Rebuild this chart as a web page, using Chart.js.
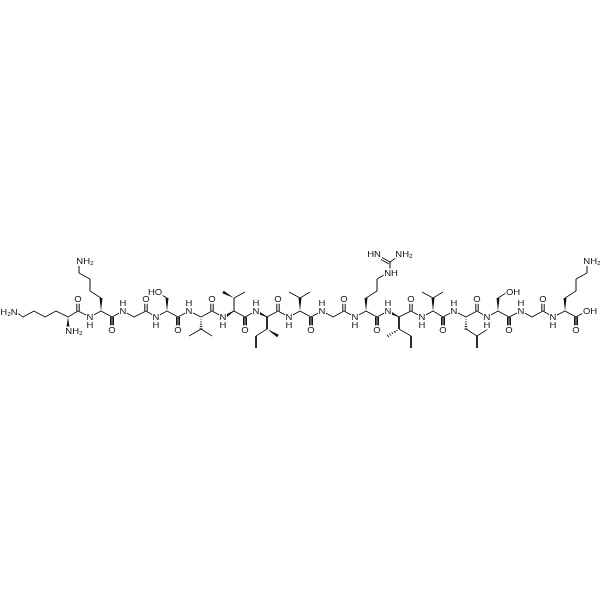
<!DOCTYPE html>
<html><head><meta charset="utf-8">
<style>html,body{margin:0;padding:0;background:#fff}canvas{display:block}</style>
<script src="https://cdn.jsdelivr.net/npm/chart.js@4"></script>
</head><body><canvas id="c" width="600" height="600"></canvas>
<script>
const backbone=[16,312,23,317,34,311,45,317,56,311,68,317,78,311,90,317,101,311,112,317,123,311,134,317,146,311,156,317,167,311,178,317,189,311,201,317,212,311,223,317,234,311,245,317,256,311,267,317,278,311,289,317,300,311,311,317,322,311,333,317,344,311,355,317,366,311,377,317,388,311,399,317,411,311,422,317,433,311,443,317,454,311,466,317,477,311,487,317,498,311,509,317,521,311,532,317,543,311,553,317,565,311,576,317,587,311];
const sideChains=[
 [101,298,90,291,90,279,79,273,79,266],
 [167,298,160,294],
 [189,336,201,329,212,336],
 [234,311,234,298,245,292],
 [267,317,267,329,256,336,256,348],
 [289,292,300,298,310,292],
 [366,298,377,291,377,279,384,275],
 [390,269,390,262,397,257],
 [399,317,399,329,411,336,411,348],
 [422,292,433,298,443,292],
 [466,329,477,336,488,329],
 [477,336,477,348],
 [498,298,506,293],
 [565,298,576,291,576,279,587,273,587,266]
];
const carbonylUpX=[78,146,212,278,344,411,477,543];
const carbonylDownX=[112,178,245,311,377,443,509,576];
const wedges=[[68,317,68,327],[101,311,101,298],[167,311,167,298],[234,311,226,316],[234,298,223,292],[267,317,259,313],[267,329,278,336],[300,311,300,298],[366,311,366,298],[399,317,391,313],[433,311,433,298],[498,311,498,298],[565,311,565,298]];
const hashes=[[201,317,201,329],[399,329,388,336],[466,317,466,329]];
const labelText=[
 ['H₂N',9,312],['NH₂',74,331],['NH₂',85,261],['HO',155,292],['OH',513,292],['OH',590,311],['NH₂',592,261],
 ['HN',374,254],['NH₂',404,254],['NH',391,273],
 ...[90,156,223,289,355,422,487,553].flatMap(x=>[['N',x,317],['H',x,325]]),
 ...[123,189,256,322,388,454,521].flatMap(x=>[['N',x,311],['H',x,303]]),
 ...carbonylUpX.map(x=>['O',x,299]),
 ...carbonylDownX.map(x=>['O',x,330])
];
const ink='#111111';
function gapped(lines){const d=[];lines.forEach(l=>{for(let i=0;i<l.length;i+=2)d.push({x:l[i],y:l[i+1]});d.push({x:NaN,y:NaN});});return d;}
const doubles=[
 ...carbonylUpX.flatMap(x=>[[x-1.2,311,x-1.2,303.5],[x+1.2,311,x+1.2,303.5]]),
 ...carbonylDownX.flatMap(x=>[[x-1.2,317,x-1.2,325.5],[x+1.2,317,x+1.2,325.5]]),
 [390,262,382,257.5],[389,264,381,259.5]
];
function wedgeSet(w){const [a,b,c,d]=w,l=Math.hypot(c-a,d-b),nx=-(d-b)/l*1.5,ny=(c-a)/l*1.5;
 return {data:[{x:a,y:b},{x:c+nx,y:d+ny},{x:c-nx,y:d-ny},{x:a,y:b}],showLine:true,fill:'shape',backgroundColor:ink,borderColor:ink,borderWidth:0,pointRadius:0,tension:0};}
function hashLines(h){const [a,b,c,d]=h,l=Math.hypot(c-a,d-b),out=[];for(let i=1;i<=5;i++){const t=i/5,w=t*1.6,nx=-(d-b)/l*w,ny=(c-a)/l*w,px=a+(c-a)*t,py=b+(d-b)*t;out.push([px+nx,py+ny,px-nx,py-ny]);}return out;}
const lineSet=d=>({data:d,showLine:true,fill:false,spanGaps:false,borderColor:ink,borderWidth:1,pointRadius:0,tension:0});
const textPlugin={id:'atoms',afterDatasetsDraw(ch){const g=ch.ctx,X=ch.scales.x,Y=ch.scales.y;g.save();g.font='9.5px "Liberation Sans"';g.textAlign='center';g.textBaseline='middle';
 labelText.forEach(([t,x,y])=>{const w=g.measureText(t).width+1;g.fillStyle='#fff';g.fillRect(X.getPixelForValue(x)-w/2,Y.getPixelForValue(y)-4.5,w,9);});
 g.fillStyle='#111';labelText.forEach(([t,x,y])=>g.fillText(t,X.getPixelForValue(x),Y.getPixelForValue(y)));g.restore();}};
new Chart(document.getElementById('c'),{type:'scatter',
 data:{datasets:[lineSet(gapped([backbone,...sideChains,...doubles,...hashes.flatMap(hashLines)])),...wedges.map(wedgeSet)]},
 options:{responsive:false,animation:false,layout:{padding:0},plugins:{legend:{display:false},tooltip:{enabled:false}},
 scales:{x:{type:'linear',min:0,max:600,display:false},y:{type:'linear',min:0,max:600,reverse:true,display:false}}},
 plugins:[textPlugin]});
</script></body></html>
